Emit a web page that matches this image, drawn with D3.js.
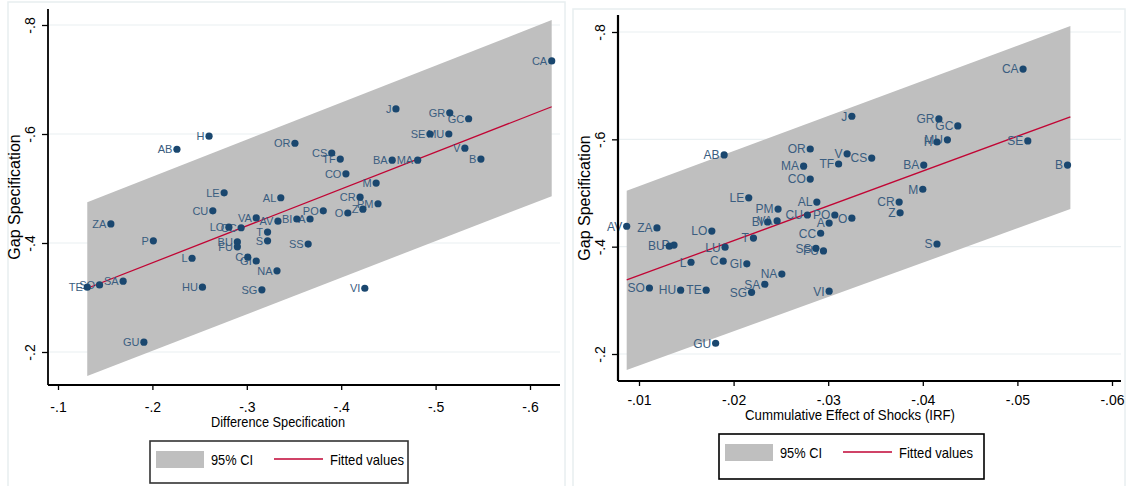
<!DOCTYPE html>
<html>
<head>
<meta charset="utf-8">
<script src="https://cdn.jsdelivr.net/npm/d3@7"></script>
<style>
  body { margin: 0; background: #fff; }
  svg { display: block; }
</style>
</head>
<body>
<div class="container"></div>
<script>
// left panel: gap vs difference specification
const leftCodes = ["CA","J","GR","GC","SE","MU","V","B","BA","MA","CS","TF","CO","M","CR","Z","PM","O","PO","A","BI","AV","VA","AL","LE","CU","ZA","P","LO","CC","BU","FU","T","S","SS","C","GI","L","NA","TE","SO","SA","HU","SG","GU","VI","H","AB","OR"];
const leftDiff = [-0.623,-0.458,-0.515,-0.535,-0.494,-0.514,-0.531,-0.548,-0.454,-0.481,-0.390,-0.399,-0.405,-0.437,-0.420,-0.423,-0.439,-0.407,-0.381,-0.367,-0.353,-0.333,-0.310,-0.336,-0.276,-0.264,-0.156,-0.201,-0.281,-0.294,-0.290,-0.290,-0.322,-0.322,-0.365,-0.301,-0.310,-0.242,-0.332,-0.131,-0.144,-0.169,-0.253,-0.316,-0.191,-0.425,-0.260,-0.226,-0.351];
const leftGap = [-0.734,-0.646,-0.639,-0.628,-0.600,-0.600,-0.574,-0.554,-0.552,-0.552,-0.565,-0.554,-0.527,-0.510,-0.484,-0.462,-0.472,-0.455,-0.459,-0.444,-0.444,-0.440,-0.446,-0.483,-0.492,-0.459,-0.435,-0.404,-0.429,-0.428,-0.402,-0.393,-0.420,-0.404,-0.398,-0.374,-0.367,-0.372,-0.349,-0.319,-0.323,-0.330,-0.319,-0.314,-0.218,-0.317,-0.596,-0.572,-0.583];
const leftFitX = [-0.131, -0.623];
const leftFitY = [-0.317, -0.650];
const leftCiTop = [-0.475, -0.809];
const leftCiBottom = [-0.156, -0.486];
const leftXTicks = [-0.1, -0.2, -0.3, -0.4, -0.5, -0.6];

// right panel: gap vs cumulative IRF
const rightCodes = ["AB","OR","MA","CO","V","TF","J","CS","CA","GR","GC","H","MU","SE","B","BA","M","CR","Z","S","O","LE","PM","AL","CU","PO","A","BI","VA","CC","T","LO","LU","SS","FU","L","C","GI","NA","SA","SG","SO","HU","TE","VI","GU","BU","P","ZA","AV"];
const rightIrf = [-0.0190,-0.0281,-0.0274,-0.0281,-0.0320,-0.0311,-0.0325,-0.0346,-0.0506,-0.0417,-0.0437,-0.0415,-0.0426,-0.0511,-0.0553,-0.0401,-0.0400,-0.0375,-0.0376,-0.0415,-0.0325,-0.0216,-0.0247,-0.0288,-0.0278,-0.0307,-0.0301,-0.0236,-0.0246,-0.0292,-0.0221,-0.0177,-0.0191,-0.0287,-0.0295,-0.0155,-0.0189,-0.0214,-0.0251,-0.0233,-0.0219,-0.0111,-0.0144,-0.0171,-0.0301,-0.0181,-0.0132,-0.0137,-0.0119,-0.0087];
const rightGap = [-0.571,-0.582,-0.550,-0.526,-0.573,-0.554,-0.643,-0.565,-0.731,-0.638,-0.625,-0.595,-0.599,-0.597,-0.552,-0.552,-0.507,-0.483,-0.463,-0.405,-0.453,-0.491,-0.470,-0.483,-0.459,-0.459,-0.444,-0.446,-0.448,-0.425,-0.416,-0.429,-0.399,-0.397,-0.392,-0.371,-0.373,-0.368,-0.349,-0.330,-0.315,-0.323,-0.319,-0.319,-0.317,-0.220,-0.401,-0.403,-0.435,-0.438];
const rightFitX = [-0.0087, -0.0556];
const rightFitY = [-0.338, -0.642];
const rightCiTop = [-0.504, -0.811];
const rightCiBottom = [-0.170, -0.470];
const rightXTicks = [-0.01, -0.02, -0.03, -0.04, -0.05, -0.06];

const yTicks = [-0.2, -0.4, -0.6, -0.8];

const width = 1126;
const height = 486;
const navy = "#1a476f";
const fitColor = "#c10534";
const ciColor = "#bfbfbf";
const sans = "'Liberation Sans', Arial, sans-serif";

const svg = d3.select(".container").append("svg")
  .attr("width", width)
  .attr("height", height);

// stata style: "-.2" with a plain hyphen
const locale = d3.formatLocale({ decimal: ".", thousands: ",", grouping: [3], currency: ["", ""], minus: "-" });
const fmt = d => locale.format(".2~f")(d).replace("-0.", "-.");

// condensed text (no narrow font installed, so squeeze to the measured width)
function squeeze(sel, len) {
  sel.attr("textLength", len).attr("lengthAdjust", "spacingAndGlyphs");
}

function drawPanel(p) {
  const g = svg.append("g");

  // faint outer frame
  g.append("rect")
    .attr("x", p.frame[0]).attr("y", p.frame[1])
    .attr("width", p.frame[2]).attr("height", p.frame[3])
    .attr("fill", "none").attr("stroke", "#e8eef0").attr("stroke-width", 1.5);

  const x = d3.scaleLinear().domain(p.xDomain).range(p.xRange);
  const y = d3.scaleLinear().domain([-0.8, -0.2]).range(p.yRange);

  // gridlines
  g.append("g").selectAll("line")
    .data(yTicks)
    .join("line")
    .attr("x1", p.plot.left).attr("x2", p.plot.right)
    .attr("y1", d => y(d)).attr("y2", d => y(d))
    .attr("stroke", "#eaf0f2").attr("stroke-width", 1.2);

  // confidence band
  const band = p.fitX.map((v, i) => ({ x: v, top: p.ciTop[i], bottom: p.ciBottom[i] }));
  g.append("path")
    .datum(band)
    .attr("fill", ciColor)
    .attr("d", d3.area().x(d => x(d.x)).y0(d => y(d.bottom)).y1(d => y(d.top)));

  // fitted line
  const fit = p.fitX.map((v, i) => ({ x: v, y: p.fitY[i] }));
  g.append("path")
    .datum(fit)
    .attr("fill", "none")
    .attr("stroke", fitColor)
    .attr("stroke-width", 1.3)
    .attr("d", d3.line().x(d => x(d.x)).y(d => y(d.y)));

  // points + labels
  const pts = p.codes.map((c, i) => ({ code: c, x: p.xs[i], y: p.ys[i] }));
  g.append("g").selectAll("text")
    .data(pts)
    .join("text")
    .attr("x", d => x(d.x) - 4.5)
    .attr("y", d => y(d.y))
    .attr("dy", "0.36em")
    .attr("text-anchor", "end")
    .attr("font-family", sans)
    .attr("font-size", p.labelSize)
    .attr("fill", "#3a5d80")
    .text(d => d.code);
  g.append("g").selectAll("circle")
    .data(pts)
    .join("circle")
    .attr("cx", d => x(d.x))
    .attr("cy", d => y(d.y))
    .attr("r", 3.6)
    .attr("fill", navy);

  // x axis
  const xAxis = g.append("g")
    .attr("transform", `translate(0,${p.plot.bottom})`)
    .call(d3.axisBottom(x).tickValues(p.xTicks).tickFormat(fmt).tickSize(5).tickPadding(p.xPad));
  xAxis.select(".domain").remove();
  xAxis.selectAll("line").attr("stroke", "#000").attr("stroke-width", 1.3);
  xAxis.selectAll("text").attr("font-family", sans).attr("font-size", 14).attr("fill", "#000");

  // y axis
  const yAxis = g.append("g")
    .attr("transform", `translate(${p.plot.left},0)`)
    .call(d3.axisLeft(y).tickValues(yTicks).tickFormat(fmt).tickSize(6));
  yAxis.select(".domain").remove();
  yAxis.selectAll("line").attr("stroke", "#000").attr("stroke-width", 1.3);
  yAxis.selectAll("text")
    .attr("x", 0).attr("y", 0).attr("dy", "0.36em")
    .attr("text-anchor", "middle")
    .attr("transform", "translate(-18,0) rotate(-90)")
    .attr("font-family", sans).attr("font-size", 14).attr("fill", "#000");

  // axis lines
  g.append("line")
    .attr("x1", p.plot.left).attr("x2", p.plot.right)
    .attr("y1", p.plot.bottom).attr("y2", p.plot.bottom)
    .attr("stroke", "#000").attr("stroke-width", p.axisWidth);
  g.append("line")
    .attr("x1", p.plot.left).attr("x2", p.plot.left)
    .attr("y1", p.plot.top).attr("y2", p.plot.bottom)
    .attr("stroke", "#000").attr("stroke-width", p.axisWidth);

  // titles
  g.append("text")
    .attr("x", p.xTitle[0]).attr("y", p.xTitle[1])
    .attr("text-anchor", "middle")
    .attr("font-family", sans).attr("font-size", 15)
    .text(p.xLabel)
    .call(squeeze, p.xTitleLen);
  g.append("text")
    .attr("transform", `translate(${p.yTitle[0]},${p.yTitle[1]}) rotate(-90)`)
    .attr("text-anchor", "middle")
    .attr("font-family", sans).attr("font-size", 16)
    .text("Gap Specification");

  // legend
  const L = p.legend;
  g.append("rect")
    .attr("x", L.x).attr("y", L.y).attr("width", L.w).attr("height", L.h)
    .attr("fill", "#fff").attr("stroke", L.stroke).attr("stroke-width", 1.6);
  g.append("rect")
    .attr("x", L.x + 6).attr("y", L.y + 10).attr("width", 48).attr("height", 17)
    .attr("fill", ciColor);
  g.append("text")
    .attr("x", L.x + 61).attr("y", L.y + 19).attr("dy", "0.36em")
    .attr("font-family", sans).attr("font-size", 15)
    .text("95% CI")
    .call(squeeze, 42);
  g.append("line")
    .attr("x1", L.x + 124).attr("x2", L.x + 173)
    .attr("y1", L.y + 18).attr("y2", L.y + 18)
    .attr("stroke", fitColor).attr("stroke-width", 1.3);
  g.append("text")
    .attr("x", L.x + 180).attr("y", L.y + 19).attr("dy", "0.36em")
    .attr("font-family", sans).attr("font-size", 15)
    .text("Fitted values")
    .call(squeeze, 74);
}

drawPanel({
  frame: [8, 2, 557, 490],
  codes: leftCodes, xs: leftDiff, ys: leftGap,
  fitX: leftFitX, fitY: leftFitY, ciTop: leftCiTop, ciBottom: leftCiBottom,
  xTicks: leftXTicks,
  xDomain: [-0.1, -0.6], xRange: [58, 530],
  yRange: [25, 352],
  plot: { left: 48, right: 560, top: 9, bottom: 385 },
  xPad: 12, axisWidth: 1.8, labelSize: 11,
  xLabel: "Difference Specification", xTitle: [278, 427], xTitleLen: 134, yTitle: [20, 197],
  legend: { x: 150, y: 441, w: 258, h: 42, stroke: "#333" }
});

drawPanel({
  frame: [573, 9, 552, 480],
  codes: rightCodes, xs: rightIrf, ys: rightGap,
  fitX: rightFitX, fitY: rightFitY, ciTop: rightCiTop, ciBottom: rightCiBottom,
  xTicks: rightXTicks,
  xDomain: [-0.01, -0.06], xRange: [639, 1112],
  yRange: [32, 354],
  plot: { left: 618, right: 1121, top: 15, bottom: 381 },
  xPad: 9, axisWidth: 2.2, labelSize: 12,
  xLabel: "Cummulative Effect of Shocks (IRF)", xTitle: [850, 420], xTitleLen: 210, yTitle: [590, 198],
  legend: { x: 719, y: 434, w: 265, h: 45, stroke: "#000" }
});
</script>
</body>
</html>
